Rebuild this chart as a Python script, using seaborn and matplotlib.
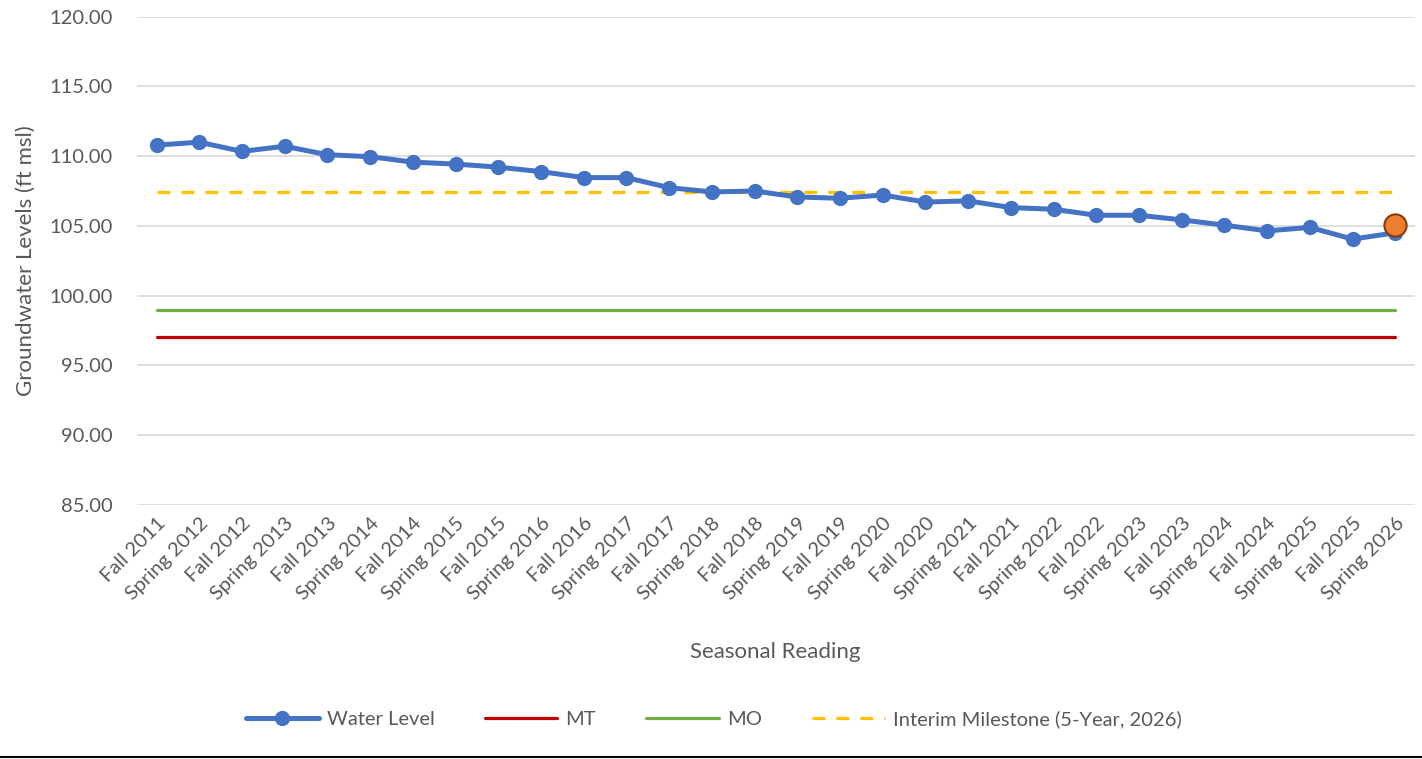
import numpy as np
import pandas as pd
import matplotlib
matplotlib.use("Agg")
import matplotlib.pyplot as plt
import seaborn as sns
from matplotlib.lines import Line2D
from matplotlib.ticker import FormatStrFormatter

# dados
seasons = []
for ano in range(2011, 2026):
    seasons.append(f"Fall {ano}")
    seasons.append(f"Spring {ano + 1}")

water_level = [110.79, 111.00, 110.34, 110.71, 110.10, 109.96, 109.57, 109.43,
               109.21, 108.89, 108.46, 108.46, 107.74, 107.43, 107.50, 107.07,
               106.98, 107.21, 106.71, 106.79, 106.31, 106.19, 105.76, 105.76,
               105.43, 105.05, 104.64, 104.89, 104.05, 104.50]
mt_value = 97.0
mo_value = 99.0
milestone_value = 107.4
milestone_point = 105.05

df = pd.DataFrame({
    "Seasonal Reading": seasons,
    "Water Level": water_level,
    "MT": [mt_value] * len(seasons),
    "MO": [mo_value] * len(seasons),
    "Milestone": [milestone_value] * len(seasons),
})

sns.set_style("white")
plt.rcParams["font.family"] = ["Lato", "DejaVu Sans"]
cinza = "#595959"

fig = plt.figure(figsize=(14.22, 7.59), dpi=100)
ax = fig.add_axes([0.096, 0.335, 0.899, 0.643])

sns.lineplot(data=df, x="Seasonal Reading", y="MT", ax=ax, color="#C00000",
             linewidth=2.3, label="MT", sort=False)
sns.lineplot(data=df, x="Seasonal Reading", y="MO", ax=ax, color="#70AD47",
             linewidth=2.3, label="MO", sort=False)
sns.lineplot(data=df, x="Seasonal Reading", y="Milestone", ax=ax, color="#FFC000",
             linewidth=2.3, linestyle=(0, (4, 3.5)),
             label="Interim Milestone (5-Year, 2026)", sort=False)
sns.lineplot(data=df, x="Seasonal Reading", y="Water Level", ax=ax, color="#4472C4",
             linewidth=3.6, marker="o", markersize=11, markeredgewidth=0,
             label="Water Level", sort=False)
ax.plot([seasons[-1]], [milestone_point], marker="o", markersize=16,
        markerfacecolor="#ED7D31", markeredgecolor="#843C0C", markeredgewidth=1.5,
        linestyle="none", zorder=5)

ax.set_ylim(85, 120)
ax.set_yticks(np.arange(85, 121, 5))
ax.yaxis.set_major_formatter(FormatStrFormatter("%.2f"))
ax.set_xlim(-0.47, 29.46)
ax.grid(axis="y", color="#D9D9D9", linewidth=1.2)
ax.grid(axis="x", visible=False)
for s in ax.spines.values():
    s.set_visible(False)
ax.tick_params(axis="both", length=0, labelsize=14.5, colors=cinza)
ax.tick_params(axis="y", pad=17)
ax.tick_params(axis="x", pad=7)
plt.setp(ax.get_xticklabels(), rotation=45, ha="right", rotation_mode="anchor")

ax.set_xlabel("Seasonal Reading", fontsize=16, color=cinza, labelpad=28)
ax.set_ylabel("Groundwater Levels (ft msl)", fontsize=16, color=cinza, labelpad=10)

handles, labels = ax.get_legend_handles_labels()
ordem = ["Water Level", "MT", "MO", "Interim Milestone (5-Year, 2026)"]
hmap = dict(zip(labels, handles))
leg = fig.legend([hmap[o] for o in ordem], ordem, loc="center",
                 bbox_to_anchor=(0.502, 0.053),
                 ncol=4, frameon=False, fontsize=14.5, handlelength=3.6,
                 columnspacing=2.5, handletextpad=0.4)
ax.get_legend().remove()
for t in leg.get_texts():
    t.set_color(cinza)

fig.add_artist(Line2D([0, 1], [0.002, 0.002], color="black", linewidth=1.5,
                      transform=fig.transFigure))

plt.savefig("out.png", dpi=100)
